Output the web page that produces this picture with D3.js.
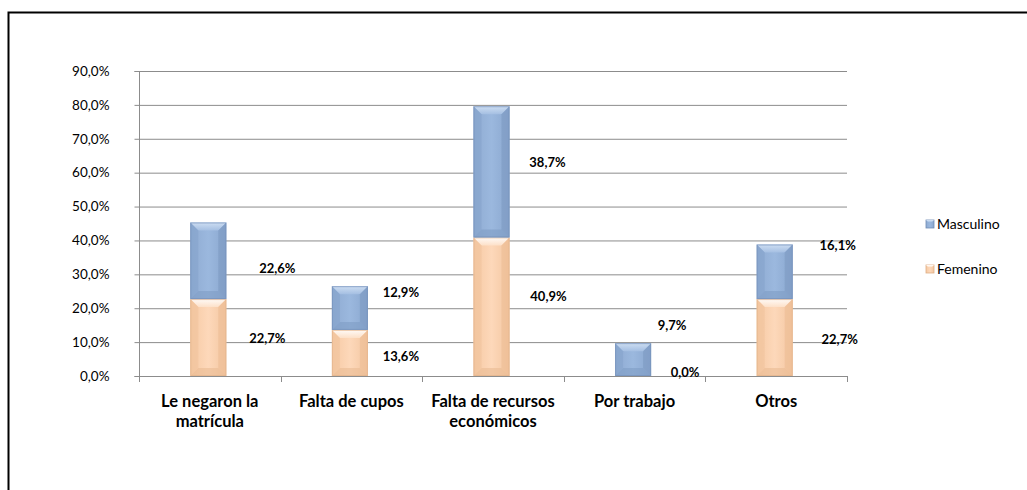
<!DOCTYPE html>
<html><head><meta charset="utf-8">
<script src="https://cdn.jsdelivr.net/npm/d3@7"></script>
<style>body{margin:0;background:#fff}svg{display:block;font-family:Lato,"Open Sans",sans-serif}</style>
</head><body><svg id="c" width="1027" height="490"></svg>
<script>
const categories = [["Le negaron la","matrícula"],["Falta de cupos"],["Falta de recursos","económicos"],["Por trabajo"],["Otros"]];
const femenino = [22.7, 13.6, 40.9, 0.0, 22.7];
const masculino = [22.6, 12.9, 38.7, 9.7, 16.1];
// label anchors (value units) and horizontal nudges, as placed in the original
const femLabelAt = [11.2, 5.8, 23.7, 1.3, 10.8];
const mascLabelAt = [31.9, 24.8, 63.2, 15.0, 38.7];
const femLabelNudge = [59, 51, 57, 52, 65];
const mascLabelNudge = [69, 51, 56, 39, 63];
const yTicks = [0,10,20,30,40,50,60,70,80,90];
const seriesNames = ["Masculino","Femenino"];

const svg = d3.select("#c");
svg.append("rect").attr("x",8.5).attr("y",12.5).attr("width",1100).attr("height",600)
  .attr("fill","none").attr("stroke","#000").attr("stroke-width",2);

const L=139, R=847, T=71, B=376;
const x = d3.scaleBand().domain(d3.range(categories.length)).range([L,R]);
const y = d3.scaleLinear().domain([0,90]).range([B,T]);
const fmt = v => d3.format(".1f")(v).replace(".",",")+"%";

const defs = svg.append("defs");
function grad(id, stops, horiz){
  const g = defs.append("linearGradient").attr("id",id)
    .attr("x1",0).attr("y1",0).attr("x2",horiz?1:0).attr("y2",horiz?0:1);
  stops.forEach(s=>g.append("stop").attr("offset",s[0]).attr("stop-color",s[1]));
}
grad("mBody",[[0,"#8fabd2"],[0.5,"#9bb8de"],[1,"#8aa7cf"]],true);
grad("fBody",[[0,"#f6c9a3"],[0.5,"#fdd8ba"],[1,"#f3c6a0"]],true);
grad("mTop",[[0,"#d4e3f5"],[1,"#a6c0e3"]]);
grad("fTop",[[0,"#ffffff"],[1,"#fde2cb"]]);

// gridlines
svg.append("g").selectAll("line").data(yTicks.slice(1)).join("line")
  .attr("x1",L).attr("x2",R).attr("y1",d=>y(d)+0.5).attr("y2",d=>y(d)+0.5)
  .attr("stroke","#8c8c8c").attr("stroke-width",1);

// y axis
const ya = svg.append("g").attr("transform",`translate(${L+0.5},0)`)
  .call(d3.axisLeft(y).tickValues(yTicks).tickFormat(fmt).tickSize(5).tickPadding(25));
ya.select(".domain").attr("stroke","#8c8c8c").attr("d",`M-5,${y(90)+0.5}H0V${y(0)+0.5}H-5`);
ya.selectAll(".tick line").attr("stroke","#8c8c8c");
ya.selectAll(".tick text").attr("font-size",13.5).attr("fill","#000").attr("font-family","Lato,sans-serif");

// x axis
svg.append("line").attr("x1",L).attr("x2",R).attr("y1",B+0.5).attr("y2",B+0.5).attr("stroke","#8c8c8c");
svg.append("g").selectAll("line").data(d3.range(categories.length+1)).join("line")
  .attr("x1",i=>Math.round(L+i*x.step())+0.5).attr("x2",i=>Math.round(L+i*x.step())+0.5)
  .attr("y1",B).attr("y2",B+6).attr("stroke","#8c8c8c");
svg.append("g").selectAll("text").data(categories).join("text")
  .attr("x",(d,i)=>x(i)+x.bandwidth()/2).attr("y",407)
  .attr("text-anchor","middle").attr("font-size",16.5).attr("font-weight","bold")
  .each(function(d){
    const t=d3.select(this);
    d.forEach((s,k)=>t.append("tspan").attr("x",t.attr("x")).attr("dy",k?20:0).text(s));
  });

const bw = 36;
function bevelBar(g, cx, y0, y1, kind){
  const h = y0 - y1; if (h<=0) return;
  const xl = cx - bw/2, xr = cx + bw/2, b = Math.min(8, h/2);
  g.append("rect").attr("x",xl).attr("y",y1).attr("width",bw).attr("height",h)
    .attr("fill",`url(#${kind}Body)`);
  g.append("path").attr("d",`M${xl},${y1}L${xr},${y1}L${xr-b},${y1+b}L${xl+b},${y1+b}Z`)
    .attr("fill",`url(#${kind}Top)`).attr("opacity",0.9);
  g.append("path").attr("d",`M${xl},${y0}L${xr},${y0}L${xr-b},${y0-b}L${xl+b},${y0-b}Z`)
    .attr("fill",kind==="m"?"#7f9cc4":"#e9bb93").attr("opacity",0.6);
  g.append("path").attr("d",`M${xl},${y1}L${xl+b},${y1+b}L${xl+b},${y0-b}L${xl},${y0}Z`)
    .attr("fill",kind==="m"?"#86a3cb":"#f0c39c").attr("opacity",0.6);
  g.append("path").attr("d",`M${xr},${y1}L${xr-b},${y1+b}L${xr-b},${y0-b}L${xr},${y0}Z`)
    .attr("fill",kind==="m"?"#7d9ac2":"#ecbd95").attr("opacity",0.6);
  g.append("rect").attr("x",xl+0.5).attr("y",y1+0.5).attr("width",bw-1).attr("height",h-1)
    .attr("fill","none").attr("stroke",kind==="m"?"#7692bb":"#e2b38c").attr("stroke-width",1).attr("opacity",0.7);
}
const bars = svg.append("g");
categories.forEach((c,i)=>{
  const cx = x(i)+x.bandwidth()/2 - 1.5;
  bevelBar(bars, cx, y(0), y(femenino[i]), "f");
  bevelBar(bars, cx, y(femenino[i]), y(femenino[i]+masculino[i]), "m");
});

// data labels
const lab = svg.append("g").attr("font-size",13).attr("font-weight","bold").attr("text-anchor","middle");
categories.forEach((c,i)=>{
  const cx = x(i)+x.bandwidth()/2 - 1.5;
  lab.append("text").attr("x",cx+femLabelNudge[i]).attr("y",y(femLabelAt[i])+5).text(fmt(femenino[i]));
  lab.append("text").attr("x",cx+mascLabelNudge[i]).attr("y",y(mascLabelAt[i])+5).text(fmt(masculino[i]));
});

// legend
const leg = svg.append("g");
seriesNames.forEach((s,k)=>{
  const ly = 224 + k*45;
  const kind = k===0?"m":"f";
  leg.append("rect").attr("x",926).attr("y",ly-4).attr("width",8).attr("height",8)
    .attr("fill",`url(#${kind}Body)`).attr("stroke",kind==="m"?"#6f8cb5":"#dfae86").attr("stroke-width",0.8);
  leg.append("path").attr("d",`M926,${ly-4}L934,${ly-4}L932,${ly-2}L928,${ly-2}Z`).attr("fill",`url(#${kind}Top)`);
  leg.append("text").attr("x",937).attr("y",ly+5).attr("font-size",14).text(s);
});
</script></body></html>
